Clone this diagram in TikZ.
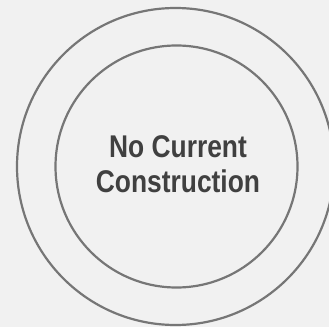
\documentclass[tikz,border=0pt]{standalone}
\usepackage{fontspec}
\setmainfont{Liberation Sans}[FakeStretch=0.84]
\definecolor{bgc}{HTML}{F1F1F1}
\definecolor{ringc}{HTML}{767676}
\definecolor{txtc}{HTML}{404040}
\tikzset{ring/.style={draw=ringc,line width=2.2pt},
  label/.style={text=txtc,align=center,font=\fontsize{31.4}{35}\selectfont\bfseries,inner sep=0pt}}
\begin{document}
\begin{tikzpicture}[x=1pt,y=1pt]
\fill[bgc] (0,0) rectangle (329,327);
\useasboundingbox (0,0) rectangle (329,327);
\begin{scope}
\clip (0,0) rectangle (329,327);
\node[ring,circle,minimum size=317pt,inner sep=0pt] (outer) at (175.5,160.5) {};
\node[ring,circle,minimum size=242pt,inner sep=0pt] (inner) at (176.5,160.5) {};
\end{scope}
\node[label] (txt) at (178,162.8) {No Current\\Construction};
\end{tikzpicture}
\end{document}
